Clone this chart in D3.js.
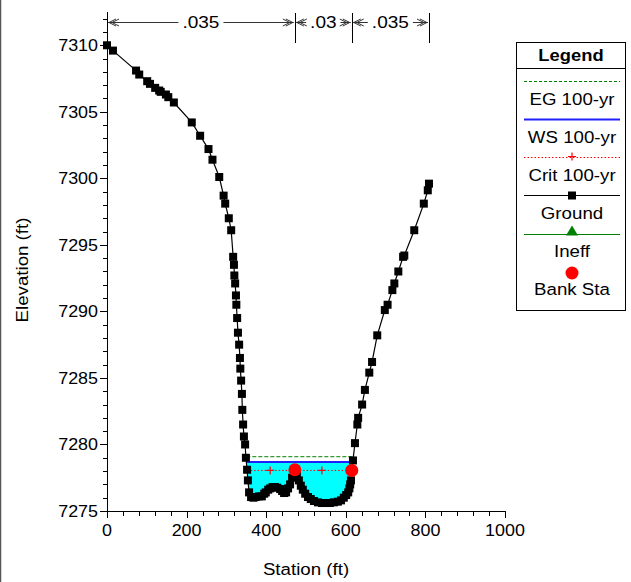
<!DOCTYPE html>
<html><head><meta charset="utf-8">
<script src="https://cdn.jsdelivr.net/npm/d3@7"></script>
<style>body{margin:0;background:#fff} svg{display:block} text{font-family:Arial,"Liberation Sans",sans-serif;fill:#000}</style>
</head><body><svg id="c" width="631" height="582"></svg>
<script>
const groundStation = [0,15,73,81,101,108,121,131,135,148,154,168,213,234,255,265,282,293,297,306,312,317,319,320,322,324,325,327,329,332,334,335,337,339,340,342,344,347,349,352,354,357,362,368,374,382,389,395,399,405,410,416,422,428,435,440,445,450,455,460,465,472,477,482,487,492,498,505,512,520,530,540,550,560,570,580,588,595,601,606,609,611,613,615,618,623,629,631,641,648,659,666,679,698,705,717,722,732,744,747,772,796,806,809];
const groundElev = [7310.0,7309.6,7308.1,7307.8,7307.3,7307.1,7306.8,7306.6,7306.5,7306.3,7306.1,7305.7,7304.2,7303.2,7302.2,7301.4,7300.1,7298.7,7298.1,7297.0,7296.1,7294.1,7293.5,7292.7,7292.1,7291.2,7290.5,7289.5,7288.4,7287.5,7286.5,7285.7,7284.8,7283.8,7282.6,7281.5,7280.6,7280.0,7279.0,7278.1,7277.3,7276.4,7276.05,7276.0,7276.05,7276.1,7276.1,7276.3,7276.4,7276.6,7276.7,7276.8,7276.8,7276.75,7276.65,7276.5,7276.35,7276.4,7276.7,7277.0,7277.5,7278.1,7277.7,7277.3,7276.9,7276.6,7276.3,7276.05,7275.9,7275.75,7275.65,7275.6,7275.6,7275.6,7275.65,7275.7,7275.8,7276.0,7276.2,7276.4,7276.7,7277.0,7277.3,7278.05,7278.8,7280.1,7281.5,7282.0,7283.0,7284.1,7285.4,7286.2,7288.2,7290.1,7290.5,7291.6,7292.1,7293.0,7294.1,7294.2,7296.1,7298.1,7299.1,7299.6];
const bankStations = [472, 615];
const wsElev = 7278.68;
const egElev = 7279.08;
const critElev = 7278.05;
const critMarkStations = [410, 540];
const nValues = [".035", ".03", ".035"];
const nBreaks = [0, 472, 615, 809];
const xTicks = [0, 200, 400, 600, 800, 1000];
const yTicks = [7275, 7280, 7285, 7290, 7295, 7300, 7305, 7310];
const legendLabels = ["EG 100-yr", "WS 100-yr", "Crit 100-yr", "Ground", "Ineff", "Bank Sta"];

const svg = d3.select("#c");
const x = d3.scaleLinear().domain([0, 1000]).range([107, 505]);
const y = d3.scaleLinear().domain([7275, 7312.5]).range([511, 12]);

function txt(sel, px, py, str, size, anchor, sx, weight, rot){
  return sel.append("text")
    .attr("transform", `translate(${px},${py})${rot?` rotate(${rot})`:""} scale(${sx},1)`)
    .attr("text-anchor", anchor).attr("font-size", size).attr("font-weight", weight||"normal").text(str);
}

svg.append("line").attr("x1",0.5).attr("x2",0.5).attr("y1",0).attr("y2",582).attr("stroke","#555").attr("stroke-width",1.5);

const ground = groundStation.map((s,i)=>({s, e: groundElev[i]}));
function interpS(elev, from, to){
  const step = to>from?1:-1;
  for(let i=from;i!==to;i+=step){
    const a=ground[i], b=ground[i+step];
    if((a.e-elev)*(b.e-elev)<=0){const t=(elev-a.e)/(b.e-a.e); return a.s+t*(b.s-a.s);}
  }
  return null;
}
function groundAt(st){
  for(let i=0;i<ground.length-1;i++){const a=ground[i],b=ground[i+1]; if(st>=a.s&&st<=b.s){return a.e+(b.e-a.e)*(st-a.s)/(b.s-a.s);}}
  return null;
}
const iMin = d3.minIndex(ground, d=>d.e);
const wsL = interpS(wsElev, iMin, 0);
const wsR = interpS(wsElev, iMin, ground.length-1);
const critL = interpS(critElev, 42, 0);
const critR = interpS(critElev, iMin, ground.length-1);

// water fill
const waterPts = [{s:wsL,e:wsElev}].concat(ground.filter(d=>d.s>wsL&&d.s<wsR)).concat([{s:wsR,e:wsElev}]);
svg.append("path").datum(waterPts)
  .attr("d", d3.area().x(d=>x(d.s)).y0(d=>y(d.e)).y1(y(wsElev)))
  .attr("fill","#00ffff");

// EG
svg.append("line").attr("x1",x(wsL)).attr("x2",x(wsR)).attr("y1",y(egElev)).attr("y2",y(egElev))
  .attr("stroke","#008000").attr("stroke-width",1).attr("stroke-dasharray","4,2");
// WS
svg.append("line").attr("x1",x(wsL)).attr("x2",x(wsR)).attr("y1",y(wsElev)).attr("y2",y(wsElev))
  .attr("stroke","#2020ff").attr("stroke-width",2);
// Crit
svg.append("line").attr("x1",x(critL)).attr("x2",x(critR)).attr("y1",y(critElev)).attr("y2",y(critElev))
  .attr("stroke","#ff0000").attr("stroke-width",1).attr("stroke-dasharray","1.5,2");
critMarkStations.forEach(s=>{
  const cx=x(s), cy=y(critElev);
  svg.append("path").attr("d",`M${cx-4},${cy}H${cx+4}M${cx},${cy-4}V${cy+4}`).attr("stroke","#ff0000").attr("stroke-width",1.2);
});

// ground line
svg.append("path").datum(ground).attr("d", d3.line().x(d=>x(d.s)).y(d=>y(d.e)))
  .attr("fill","none").attr("stroke","#000").attr("stroke-width",1.2);
svg.selectAll("rect.g").data(ground).join("rect").attr("class","g")
  .attr("x",d=>x(d.s)-4).attr("y",d=>y(d.e)-4).attr("width",8).attr("height",8).attr("fill","#000");

// bank stations
svg.selectAll("circle.b").data(bankStations).join("circle").attr("class","b")
  .attr("cx",d=>x(d)).attr("cy",d=>y(groundAt(d))).attr("r",6.5).attr("fill","#ff0000");

// axes
const gx = svg.append("g").attr("transform","translate(0,511)");
gx.append("line").attr("x1",x(0)).attr("x2",x(1000)).attr("y1",0.5).attr("y2",0.5).attr("stroke","#000");
d3.range(0,1001,40).forEach(v=>{
  const major = v%200===0;
  gx.append("line").attr("x1",Math.round(x(v))+0.5).attr("x2",Math.round(x(v))+0.5).attr("y1",0).attr("y2",major?7:5).attr("stroke","#000");
});
xTicks.forEach(v=>txt(gx, x(v), 25, v, 16, "middle", 1.12));

const gy = svg.append("g");
gy.append("line").attr("x1",107.5).attr("x2",107.5).attr("y1",y(7312.5)).attr("y2",511).attr("stroke","#000");
d3.range(7275,7313,1).forEach(v=>{
  const major = v%5===0;
  gy.append("line").attr("x1",major?100:103).attr("x2",107).attr("y1",Math.round(y(v))+0.5).attr("y2",Math.round(y(v))+0.5).attr("stroke","#000");
});
yTicks.forEach(v=>txt(gy, 98, y(v)+6, v, 16, "end", 1.12));

txt(svg, 306, 575, "Station (ft)", 17, "middle", 1.1);
txt(svg, 28, 270, "Elevation (ft)", 17, "middle", 1.1, "normal", -90);

// Manning's n
const ny = 22;
nBreaks.slice(1).forEach(s=>svg.append("line").attr("x1",Math.round(x(s))+0.5).attr("x2",Math.round(x(s))+0.5).attr("y1",13).attr("y2",43).attr("stroke","#000"));
nValues.forEach((t,i)=>{
  const a = x(nBreaks[i])+1, b = x(nBreaks[i+1])-1, m=(a+b)/2;
  const tn = txt(svg, m, ny+6, t, 17, "middle", 1.12);
  const w = tn.node().getComputedTextLength()*1.12/2+4;
  svg.append("line").attr("x1",a).attr("x2",m-w).attr("y1",ny+0.5).attr("y2",ny+0.5).attr("stroke","#333");
  svg.append("line").attr("x1",m+w).attr("x2",b).attr("y1",ny+0.5).attr("y2",ny+0.5).attr("stroke","#333");
  svg.append("path").attr("d",`M${a+8},${ny-3}L${a+1},${ny+0.5}L${a+8},${ny+4}M${a+11},${ny-3}L${a+4},${ny+0.5}L${a+11},${ny+4}`).attr("fill","none").attr("stroke","#333");
  svg.append("path").attr("d",`M${b-8},${ny-3}L${b-1},${ny+0.5}L${b-8},${ny+4}M${b-11},${ny-3}L${b-4},${ny+0.5}L${b-11},${ny+4}`).attr("fill","none").attr("stroke","#333");
});

// Legend
const L = svg.append("g");
L.append("rect").attr("x",516.5).attr("y",42.5).attr("width",109).attr("height",268).attr("fill","#fff").attr("stroke","#000");
txt(L, 571, 61, "Legend", 17, "middle", 1.08, "bold");
L.append("line").attr("x1",516).attr("x2",626).attr("y1",68.5).attr("y2",68.5).attr("stroke","#000");
const lx1=524, lx2=620, lc=572;
const lineYs=[81.5,119.5,157.5,195.5,234.5,273];
const textYs=[105,143,181,219,257,295];
L.append("line").attr("x1",lx1).attr("x2",lx2).attr("y1",lineYs[0]).attr("y2",lineYs[0]).attr("stroke","#008000").attr("stroke-dasharray","3,2");
L.append("line").attr("x1",lx1).attr("x2",lx2).attr("y1",lineYs[1]).attr("y2",lineYs[1]).attr("stroke","#2020ff").attr("stroke-width",2);
L.append("line").attr("x1",lx1).attr("x2",lx2).attr("y1",lineYs[2]).attr("y2",lineYs[2]).attr("stroke","#ff0000").attr("stroke-dasharray","1.5,2");
L.append("path").attr("d",`M${lc-4},${lineYs[2]-1}H${lc+4}M${lc},${lineYs[2]-5}V${lineYs[2]+3}`).attr("stroke","#ff0000").attr("stroke-width",1.2);
L.append("line").attr("x1",lx1).attr("x2",lx2).attr("y1",lineYs[3]).attr("y2",lineYs[3]).attr("stroke","#000");
L.append("rect").attr("x",lc-4).attr("y",lineYs[3]-4).attr("width",8).attr("height",8).attr("fill","#000");
L.append("line").attr("x1",lx1).attr("x2",lx2).attr("y1",lineYs[4]).attr("y2",lineYs[4]).attr("stroke","#008000");
L.append("path").attr("d",`M${lc-6},${lineYs[4]+1}L${lc},${lineYs[4]-9}L${lc+6},${lineYs[4]+1}Z`).attr("fill","#008000");
L.append("circle").attr("cx",lc).attr("cy",lineYs[5]).attr("r",6.5).attr("fill","#ff0000");
legendLabels.forEach((t,i)=>txt(L, lc, textYs[i], t, 17, "middle", 1.1));
</script></body></html>
